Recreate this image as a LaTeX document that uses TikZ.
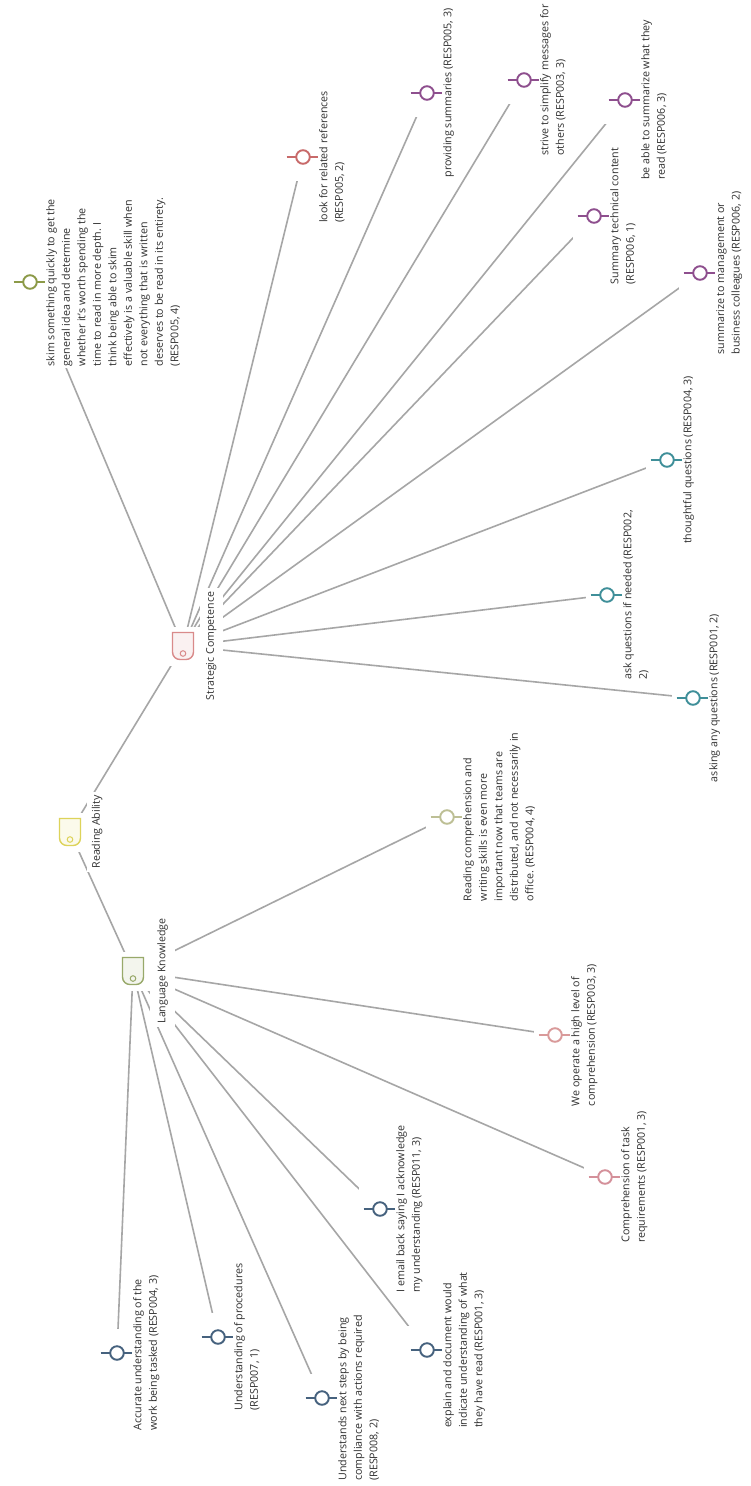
\documentclass[tikz,border=0pt]{standalone}
\usepackage{fontspec}
\setmainfont{Open Sans}
\usetikzlibrary{calc}
\definecolor{edgegray}{HTML}{A6A6A6}
\definecolor{txtgray}{HTML}{303030}
\definecolor{colyellow}{HTML}{DDD35A}
\definecolor{colsc}{HTML}{D98A8A}
\definecolor{collk}{HTML}{98A96A}
\definecolor{cololive}{HTML}{8C9A48}
\definecolor{colred}{HTML}{C86A6A}
\definecolor{colpurple}{HTML}{8E4F8E}
\definecolor{colteal}{HTML}{3F8F99}
\definecolor{colkhaki}{HTML}{BDBF95}
\definecolor{colpink}{HTML}{D99A9A}
\definecolor{colpinkb}{HTML}{D4909A}
\definecolor{colblue}{HTML}{46627E}
\pgfdeclarelayer{bg}
\pgfsetlayers{bg,main}
\tikzset{
  pics/hubmark/.style={code={
    \draw[line width=1.4pt, draw=#1, fill=#1!12] (-10.5,-13.5) -- (10.5,-13.5) -- (10.5,6)
      .. controls (10.5,10.5) and (7,13.5) .. (3,13.5) -- (-3,13.5)
      .. controls (-7,13.5) and (-10.5,10.5) .. (-10.5,6) -- cycle;
    \draw[line width=1pt, draw=#1] (0,7.5) circle (2.8);
  }},
  pics/leafmark/.style={code={
    \draw[line width=1.5pt, draw=#1] (-16.5,0) -- (-6.8,0) (6.8,0) -- (16.5,0);
    \draw[line width=1.9pt, draw=#1, fill=white] (0,0) circle (6.8);
  }},
  hubpad/.style={minimum width=33pt, minimum height=39pt, fill=white, inner sep=0pt},
  leafpad/.style={minimum width=42pt, minimum height=48pt, fill=white, inner sep=0pt},
  hublabel/.style={rotate=90, anchor=north, fill=white, inner xsep=4pt, text=txtgray,
    font=\fontsize{10.6}{12}\selectfont},
  leaftext/.style={rotate=90, anchor=north, align=left, fill=white, inner sep=1.5pt, text=txtgray,
    font=\fontsize{10.7}{15.5}\selectfont},
  edgeline/.style={draw=edgegray, line width=1.6pt},
}
\newcommand{\mmleaf}[6][]{%
  \node[leafpad,#1] (#2) at (#3,#4) {};
  \pic at (#2) {leafmark=#5};
  \node[leaftext] (#2t) at (#3+14.5,#4) {#6};
}
\begin{document}
\begin{tikzpicture}[x=1pt,y=-1pt]
\useasboundingbox (0,0) rectangle (751,1486);
\begin{pgfonlayer}{bg}
\fill[white] (0,0) rectangle (751,1486);
\end{pgfonlayer}

% hubs
\node[hubpad] (ra) at (70,832) {};
\pic at (ra) {hubmark=colyellow};
\node[hublabel, inner ysep=5pt] (ralab) at (86.5,832) {Reading Ability};

\node[hubpad] (sc) at (183,646) {};
\pic at (sc) {hubmark=colsc};
\node[hublabel, inner ysep=6.5pt] (sclab) at (199.5,646) {Strategic Competence};

\node[hubpad] (lk) at (133,971) {};
\pic at (lk) {hubmark=collk};
\node[hublabel, inner ysep=7.5pt] (lklab) at (149.5,971) {Language Knowledge};

% Strategic Competence leaves
\mmleaf[minimum height=80pt]{s1}{30}{282}{cololive}{skim something quickly to get the\\general idea and determine\\whether it's worth spending the\\time to read in more depth. I\\think being able to skim\\effectively is a valuable skill when\\not everything that is written\\deserves to be read in its entirety.\\(RESP005, 4)}
\mmleaf{s2}{303}{157}{colred}{look for related references\\(RESP005, 2)}
\mmleaf{s3}{427}{93}{colpurple}{providing summaries (RESP005, 3)}
\mmleaf{s4}{524}{80}{colpurple}{strive to simplify messages for\\others (RESP003, 3)}
\mmleaf{s5}{625}{100}{colpurple}{be able to summarize what they\\read (RESP006, 3)}
\mmleaf{s6}{594}{216}{colpurple}{Summary technical content\\(RESP006, 1)}
\mmleaf{s7}{700}{273}{colpurple}{summarize to management or\\business colleagues (RESP006, 2)}
\mmleaf{s8}{667}{460}{colteal}{thoughtful questions (RESP004, 3)}
\mmleaf{s9}{607}{595}{colteal}{ask questions if needed (RESP002,\\2)}
\mmleaf{s10}{693}{698}{colteal}{asking any questions (RESP001, 2)}

% Language Knowledge leaves
\mmleaf{k1}{447}{817}{colkhaki}{Reading comprehension and\\writing skills is even more\\important now that teams are\\distributed, and not necessarily in\\office. (RESP004, 4)}
\mmleaf{k2}{555}{1035}{colpink}{We operate a high level of\\comprehension (RESP003, 3)}
\mmleaf{k3}{605}{1177}{colpinkb}{Comprehension of task\\requirements (RESP001, 3)}
\mmleaf{k4}{380}{1209}{colblue}{I email back saying I acknowledge\\my understanding (RESP011, 3)}
\mmleaf{k5}{427}{1350}{colblue}{explain and document would\\indicate understanding of what\\they have read (RESP001, 3)}
\mmleaf{k6}{322}{1398}{colblue}{Understands next steps by being\\compliance with actions required\\(RESP008, 2)}
\mmleaf{k7}{218}{1337}{colblue}{Understanding of procedures\\(RESP007, 1)}
\mmleaf{k8}{117}{1353}{colblue}{Accurate understanding of the\\work being tasked (RESP004, 3)}

\begin{pgfonlayer}{bg}
\draw[edgeline] (ra.center) -- (sc.center);
\draw[edgeline] (ra.center) -- (lk.center);
\foreach \l in {s1,s2,s3,s4,s5,s6,s7,s8,s9,s10}
  \draw[edgeline] (sc.center) -- (\l.center);
\foreach \l in {k1,k2,k3,k4,k5,k6,k7,k8}
  \draw[edgeline] (lk.center) -- (\l.center);
\end{pgfonlayer}
\end{tikzpicture}
\end{document}
